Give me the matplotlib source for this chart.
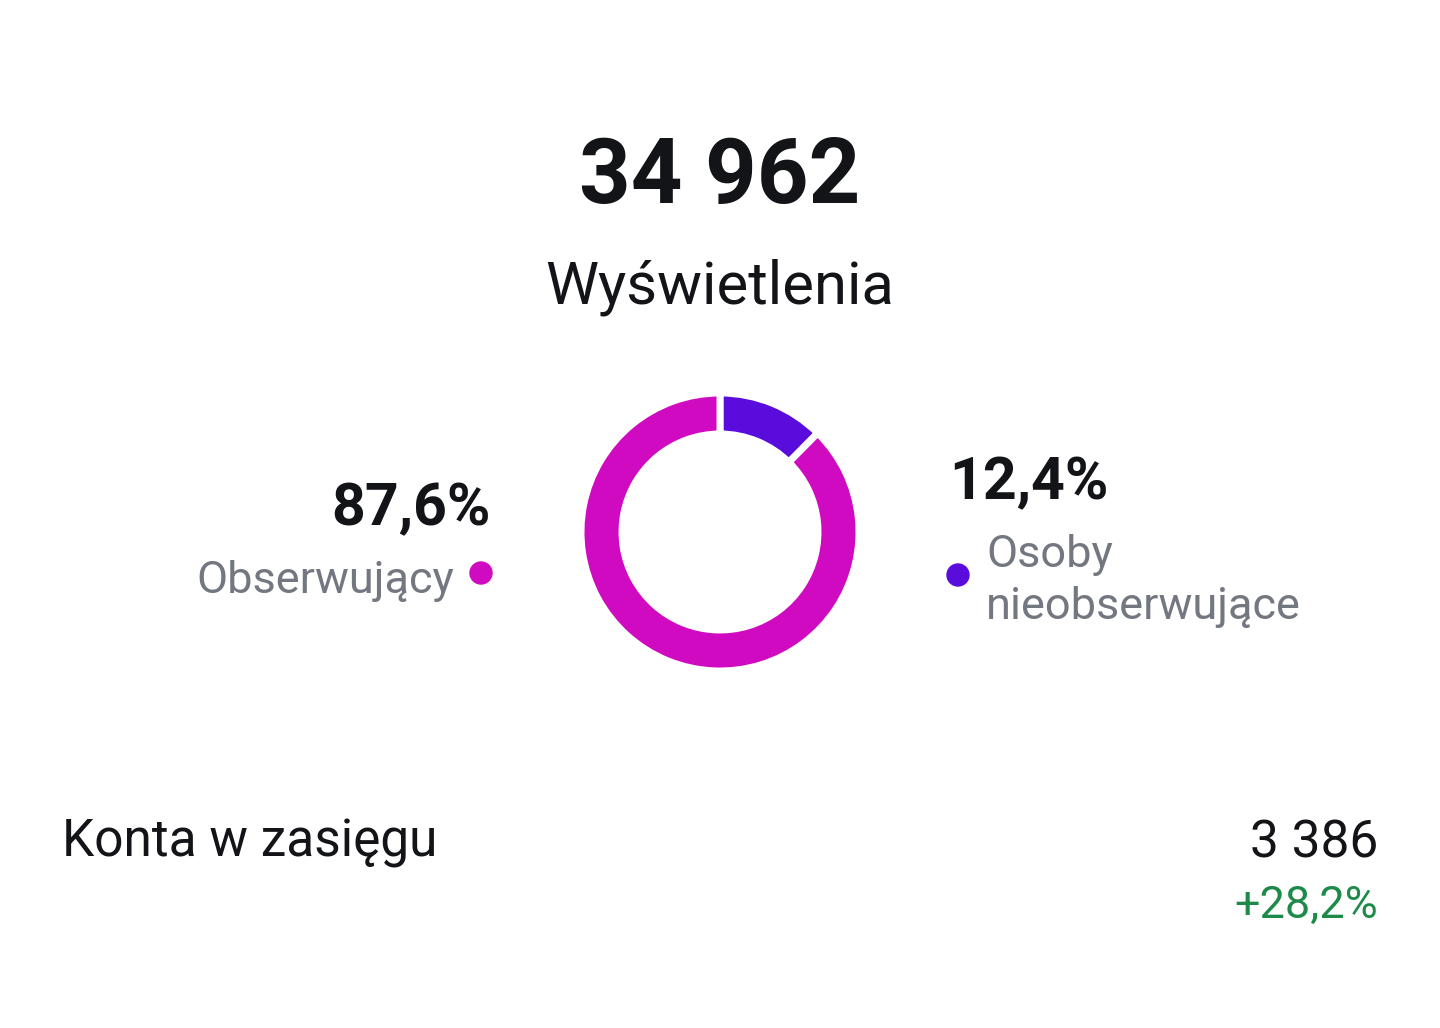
import matplotlib.pyplot as plt
from matplotlib.patches import Circle

plt.rcParams['font.family'] = ['Roboto', 'DejaVu Sans']

# data
total_views = "34 962"
title = "Wyświetlenia"
labels = ["Osoby\nnieobserwujące", "Obserwujący"]
shares = [12.4, 87.6]
colors = ["#5A0CDC", "#D00AC0"]
reach_label = "Konta w zasięgu"
reach_value = "3 386"
reach_change = "+28,2%"

W, H = 1440, 1028
fig = plt.figure(figsize=(W / 100, H / 100), dpi=100)
fig.patch.set_facecolor("white")

# full-figure axes in pixel coordinates for the text
ax = fig.add_axes([0, 0, 1, 1])
ax.set_xlim(0, W)
ax.set_ylim(H, 0)
ax.axis("off")

dark = "#121417"
grey = "#737780"

ax.text(720, 203, total_views, ha="center", va="baseline", fontsize=65,
        fontweight="bold", color=dark)
ax.text(720, 304, title, ha="center", va="baseline", fontsize=43, color=dark)

# left label (Obserwujący)
ax.text(491, 525, f"{shares[1]:.1f}%".replace(".", ","), ha="right", va="baseline",
        fontsize=42.5, fontweight="bold", color=dark)
ax.text(454, 593, labels[1], ha="right", va="baseline", fontsize=32.5, color=grey)
ax.add_patch(Circle((481, 573), 11, color=colors[1]))

# right label (Osoby nieobserwujące)
ax.text(949, 499, f"{shares[0]:.1f}%".replace(".", ","), ha="left", va="baseline",
        fontsize=42.5, fontweight="bold", color=dark)
ax.add_patch(Circle((958, 575), 11, color=colors[0]))
line1, line2 = labels[0].split("\n")
ax.text(986, 567, line1, ha="left", va="baseline", fontsize=32.5, color=grey)
ax.text(986, 619, line2, ha="left", va="baseline", fontsize=32.5, color=grey)

# bottom row
ax.text(62, 857, reach_label, ha="left", va="baseline", fontsize=37, color=dark)
ax.text(1378, 857, reach_value, ha="right", va="baseline", fontsize=37, color=dark)
ax.text(1378, 918, reach_change, ha="right", va="baseline", fontsize=32.5, color="#1E8A4A")

# donut
cx, cy, r = 720, 532, 139
pax = fig.add_axes([(cx - r) / W, (H - cy - r) / H, 2 * r / W, 2 * r / H])
pax.pie(shares, colors=colors, startangle=90, counterclock=False,
        wedgeprops=dict(width=41 / r, edgecolor="white", linewidth=5))
pax.set_aspect("equal")
pax.set_xlim(-1, 1)
pax.set_ylim(-1, 1)

fig.savefig("out.png", dpi=100, facecolor="white")
